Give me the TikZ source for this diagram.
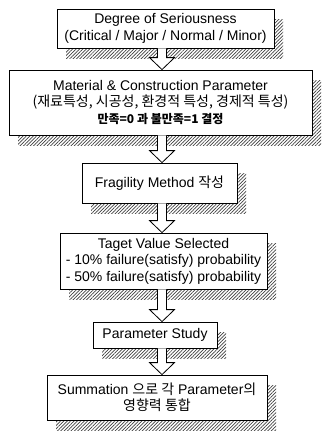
\documentclass[tikz,border=0pt]{standalone}
\usepackage{fontspec}
\setmainfont{Liberation Sans}
\newfontfamily\kr{Noto Sans CJK KR}
\usetikzlibrary{calc,patterns.meta,shadows}
\newcommand\flowarrow[2]{%
  \draw[arrowline] let \p1=(#1.south -| ax), \p2=(#2.north -| ax) in
    (\x1-4.5pt,\y1) -- (\x1-4.5pt,\y2+12pt) -- (\x1-12.5pt,\y2+12pt) -- (\x1,\y2)
    -- (\x1+12.5pt,\y2+12pt) -- (\x1+4.5pt,\y2+12pt) -- (\x1+4.5pt,\y1);}
\begin{document}
\begin{tikzpicture}[x=1pt,y=1pt,
  box/.style={draw=black, line width=0.8pt, fill=white, inner sep=0pt, align=center,
    font=\fontsize{14}{16.5}\selectfont,
    general shadow={shadow xshift=9pt, shadow yshift=-10pt, draw=none,
      preaction={fill=gray!60},
      pattern={Lines[angle=45,distance=2.4pt,line width=0.7pt]}, pattern color=black!75}},
  arrowline/.style={draw=black, line width=0.8pt, fill=white, line join=miter}]
\useasboundingbox (0,0) rectangle (325,-434);
\coordinate (ax) at (162,0);
\node[box, minimum width=217pt, minimum height=39pt] (b1) at (165.5,-28.5)
  {Degree of Seriousness\\(Critical / Major / Normal / Minor)};
\node[box, minimum width=303pt, minimum height=65pt] (b2) at (160.5,-102.5)
  {Material \& Construction Parameter\\{\kr (재료특성, 시공성, 환경적 특성, 경제적 특성)}\\{\fontsize{12}{14}\selectfont\bfseries\kr 만족=0 과 불만족=1 결정}};
\node[box, minimum width=155pt, minimum height=40pt] (b3) at (159.5,-183)
  {Fragility Method {\kr 작성}};
\node[box, minimum width=207pt, minimum height=56pt] (b4) at (163.5,-261)
  {Taget Value Selected\\- 10\% failure(satisfy) probability\\- 50\% failure(satisfy) probability};
\node[box, minimum width=124pt, minimum height=26pt] (b5) at (155,-335)
  {Parameter Study};
\node[box, minimum width=220pt, minimum height=45pt] (b6) at (157,-397.5)
  {Summation {\kr 으로 각} Parameter{\kr 의}\\{\kr 영향력 통합}};
\flowarrow{b1}{b2}
\flowarrow{b2}{b3}
\flowarrow{b3}{b4}
\flowarrow{b4}{b5}
\flowarrow{b5}{b6}
\end{tikzpicture}
\end{document}
